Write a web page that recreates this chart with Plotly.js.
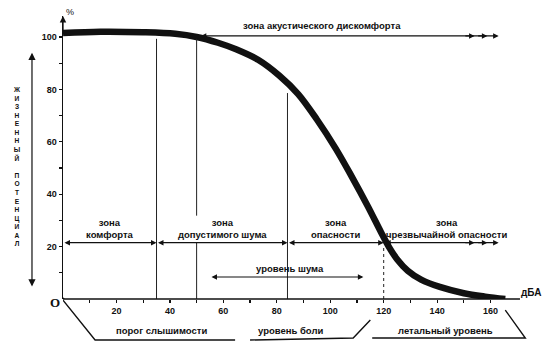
<!DOCTYPE html>
<html><head><meta charset="utf-8">
<script src="https://cdn.plot.ly/plotly-3.0.1.min.js"></script>
<style>html,body{margin:0;padding:0;background:#fff}#chart{width:554px;height:354px}</style>
</head><body><div id="chart"></div>
<script>
// ---- data ----
const noiseDb =        [0,     14,  30,    42,    50,  58,   65,   73,   81,   88,   95,   102,  108,  114,  119,  122,  125,  129,  134, 141, 150, 158, 165.5];
const lifePotential =  [101.5, 102, 101.8, 101.2, 100, 97.8, 95.2, 91.3, 85.2, 78.2, 68.5, 57.5, 46.8, 35.5, 25.5, 19.8, 15.2, 10.8, 7.4, 4.6, 2.2, 0.9, 0];
const xTickVals = [20, 40, 60, 80, 100, 120, 140, 160];
const yTickVals = [20, 40, 60, 80, 100];
const zoneBounds = [0, 35, 84, 120, 163];
const zoneLabels = ['зона<br>комфорта', 'зона<br>допустимого шума', 'зона<br>опасности', 'зона<br>чрезвычайной опасности'];
const zoneLevel = 21.5;
const discomfortRange = [51, 163];
const discomfortLevel = 100.4;
const discomfortLabel = 'зона акустического дискомфорта';
const noiseLevelRange = [55, 112.4];
const noiseLevelValue = 8.4;
const noiseLevelLabel = 'уровень шума';
const bottomLabels = ['порог слышимости', 'уровень боли', 'летальный уровень'];
const bottomCenters = [37, 85, 143];
const yTitleText = 'ЖИЗНЕННЫЙ ПОТЕНЦИАЛ';
const xUnit = 'дБА';
const yUnit = '%';

// ---- drawing ----
const FONT = 'Liberation Sans, Arial, sans-serif';
const black = '#111';
const lbl = (extra) => Object.assign({showarrow: false, xanchor: 'center', yanchor: 'middle',
  font: {family: FONT, size: 9.5, color: black, weight: 'bold'}}, extra);
const arrow = (x0, x1, y, both, extra) => Object.assign({
  xref: 'x', yref: 'y', axref: 'x', ayref: 'y', x: x1, y: y, ax: x0, ay: y,
  showarrow: true, text: '', arrowhead: 2, startarrowhead: 2, arrowsize: 1, startarrowsize: 1,
  arrowwidth: 1.1, arrowcolor: black, standoff: 0, startstandoff: 0,
  arrowside: both ? 'end+start' : 'end'}, extra || {});

const annotations = [];
const shapes = [];

// zone arrows along the 20% line
for (let i = 0; i < zoneBounds.length - 1; i++) {
  annotations.push(arrow(zoneBounds[i], zoneBounds[i + 1], zoneLevel, true));
  annotations.push(lbl({xref: 'x', yref: 'y', x: (zoneBounds[i] + zoneBounds[i + 1]) / 2 + (i === 3 ? 2 : 0), y: zoneLevel + 5.4,
    text: zoneLabels[i]}));
}
// extra arrow heads on the last zone & discomfort line
[154, 158.8].forEach(h => {
  annotations.push(arrow(h - 4, h, zoneLevel, false));
  annotations.push(arrow(h - 4, h, discomfortLevel, false));
});
// discomfort zone
annotations.push(arrow(discomfortRange[0], discomfortRange[1], discomfortLevel, true));
annotations.push(lbl({xref: 'x', yref: 'y', x: 97, y: 104.3, text: discomfortLabel}));
// noise level
annotations.push(arrow(noiseLevelRange[0], noiseLevelRange[1], noiseLevelValue, true));
annotations.push(lbl({xref: 'x', yref: 'y', x: 85, y: 11.8, text: noiseLevelLabel}));
// bottom labels
bottomLabels.forEach((t, i) => annotations.push(lbl({xref: 'x', yref: 'paper', x: bottomCenters[i], y: -0.113, text: t})));
// y axis arrow head
annotations.push({xref: 'x', yref: 'y', axref: 'pixel', ayref: 'y', x: 0, y: 108, ax: 0, ay: 102,
  showarrow: true, text: '', arrowhead: 2, arrowsize: 1, arrowwidth: 1.3, arrowcolor: black, standoff: 0});
// left vertical double arrow + stacked title
annotations.push({xref: 'paper', yref: 'y', axref: 'pixel', ayref: 'y', x: -0.0667, y: 94, ax: 0, ay: 4.2,
  showarrow: true, text: '', arrowhead: 2, startarrowhead: 2, arrowside: 'end+start', arrowsize: 1.2, startarrowsize: 1.2,
  arrowwidth: 1.2, arrowcolor: black, standoff: 0, startstandoff: 0});
annotations.push(lbl({xref: 'paper', yref: 'y', x: -0.099, y: 50.4,
  text: yTitleText.split('').map(c => c === ' ' ? '&nbsp;' : c).join('<br>'),
  font: {family: FONT, size: 6.6, color: black, weight: 'bold'}}));
// units and origin
annotations.push(lbl({xref: 'paper', yref: 'y', x: 1.006, y: 2.4, text: xUnit, font: {family: FONT, size: 10, color: black, weight: 'bold'}}));
annotations.push(lbl({xref: 'x', yref: 'paper', x: 2.6, y: 1.014, text: yUnit, font: {family: FONT, size: 9, color: black}}));
annotations.push(lbl({xref: 'paper', yref: 'paper', x: -0.017, y: -0.014, text: 'O', font: {family: 'Liberation Serif, serif', size: 13, color: black, weight: 'bold'}}));

// vertical boundary lines
const vline = (x, y0, y1, dash) => ({type: 'line', xref: 'x', yref: 'y', x0: x, x1: x, y0: y0, y1: y1,
  line: {color: '#222', width: 1, dash: dash || 'solid'}});
shapes.push(vline(zoneBounds[1], 0, 99.3));
shapes.push(vline(discomfortRange[0] - 1, 0, zoneLevel));
shapes.push(vline(discomfortRange[0] - 1, 31.8, 99.3));
shapes.push(vline(zoneBounds[2], 0, 78.6));
shapes.push(vline(zoneBounds[3], 0, zoneLevel - 1, 'dot'));
// x axis line
shapes.push({type: 'line', xref: 'x', yref: 'paper', x0: 0, x1: 171, y0: 0, y1: 0, line: {color: black, width: 1.5}});
// bottom brackets
const bline = (pts) => ({type: 'path', xref: 'x', yref: 'paper', line: {color: black, width: 1.4},
  path: 'M ' + pts.map(p => p[0] + ',' + p[1]).join(' L ')});
shapes.push(bline([[0, -0.004], [12, -0.145], [64.4, -0.145]]));
shapes.push(bline([[70, -0.145], [108.6, -0.138], [115, -0.074]]));
shapes.push(bline([[115.7, -0.138], [173, -0.138], [165.5, -0.039]]));
// origin dot
shapes.push({type: 'circle', xref: 'x', yref: 'y', x0: -0.6, x1: 0.6, y0: -0.6, y1: 0.6, fillcolor: black, line: {width: 0}});

const trace = {x: noiseDb, y: lifePotential, type: 'scatter', mode: 'lines',
  line: {color: black, width: 6.5, shape: 'spline', smoothing: 1}, cliponaxis: false, hoverinfo: 'skip'};

const layout = {
  width: 554, height: 354, margin: {l: 63, r: 26, t: 16, b: 55},
  paper_bgcolor: '#fff', plot_bgcolor: '#fff', showlegend: false,
  font: {family: FONT, color: black},
  xaxis: {range: [0, 174], showgrid: false, zeroline: false, showline: false,
    tickvals: xTickVals, ticks: 'outside', ticklen: 3, tickwidth: 1.2, tickcolor: black,
    minor: {tickvals: [10, 30, 50, 70, 90, 110, 130, 150], ticks: 'outside', ticklen: 3, tickcolor: black},
    tickfont: {family: FONT, size: 9, color: black, weight: 'bold'}, fixedrange: true},
  yaxis: {range: [0, 108], showgrid: false, zeroline: false, showline: true, linecolor: black, linewidth: 1.5,
    tickvals: yTickVals, ticks: 'outside', ticklen: 3, tickwidth: 1.2, tickcolor: black,
    minor: {tickvals: [10, 30, 50, 70, 90], ticks: 'outside', ticklen: 3, tickcolor: black},
    tickfont: {family: FONT, size: 9, color: black, weight: 'bold'}, fixedrange: true},
  annotations: annotations, shapes: shapes
};
Plotly.newPlot('chart', [trace], layout, {staticPlot: true});
</script></body></html>
